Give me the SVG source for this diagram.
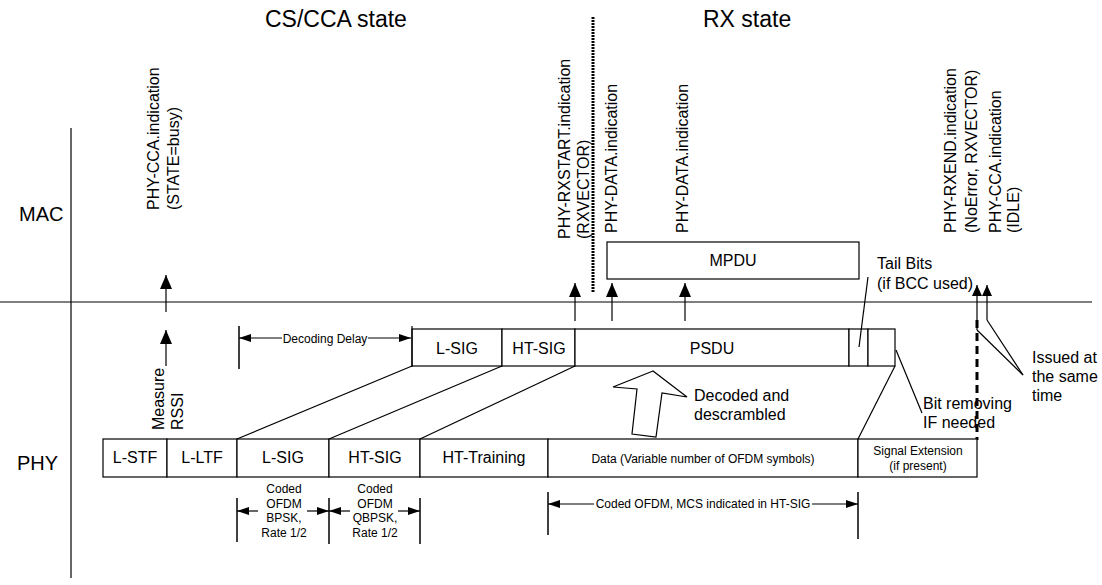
<svg xmlns="http://www.w3.org/2000/svg" width="1102" height="585" viewBox="0 0 1102 585">
<defs>
<marker id="ah" markerUnits="userSpaceOnUse" markerWidth="14" markerHeight="12" refX="14" refY="6" orient="auto"><path d="M0,0 L14,6 L0,12 Z" fill="#000"/></marker>
<marker id="ahs" markerUnits="userSpaceOnUse" markerWidth="12" markerHeight="8" refX="12" refY="4" orient="auto"><path d="M0,0 L12,4 L0,8 Z" fill="#000"/></marker>
<marker id="ahm" markerUnits="userSpaceOnUse" markerWidth="11" markerHeight="10" refX="11" refY="5" orient="auto"><path d="M0,0 L11,5 L0,10 Z" fill="#000"/></marker>
</defs>
<style>
text{font-family:"Liberation Sans",Arial,sans-serif;fill:#000}
.t16{font-size:16px}
.t12{font-size:12px}
.t20{font-size:20px}
.t23{font-size:23px}
.mid{text-anchor:middle}
.box{fill:#fff;stroke:#000;stroke-width:1.2}
.ln{stroke:#000;stroke-width:1.2;fill:none}
.tk{stroke:#000;stroke-width:1.5;fill:none}
</style>
<rect width="1102" height="585" fill="#fff"/>

<g id="labels">
<text class="t23" x="265" y="27">CS/CCA state</text>
<text class="t23" x="703" y="27">RX state</text>
<text class="t20" x="19" y="221">MAC</text>
<text class="t20" x="17" y="470">PHY</text>
</g>

<g id="axes">
<line class="ln" x1="0" y1="302" x2="1092" y2="302"/>
<line class="ln" x1="71" y1="128" x2="71" y2="578"/>
<line x1="593" y1="17" x2="593" y2="293" stroke="#000" stroke-width="3" stroke-dasharray="2,1"/>
<line x1="977" y1="320" x2="977" y2="440" stroke="#000" stroke-width="3" stroke-dasharray="8,5"/>
</g>

<g id="mac-labels">
<text class="t16" transform="translate(159,210) rotate(-90)">PHY-CCA.indication<tspan x="0" dy="20">(STATE=busy)</tspan></text>
<text class="t16" transform="translate(570,239) rotate(-90)">PHY-RXSTART.indication<tspan x="0" dy="19">(RXVECTOR)</tspan></text>
<text class="t16" transform="translate(617,233) rotate(-90)">PHY-DATA.indication</text>
<text class="t16" transform="translate(688,233) rotate(-90)">PHY-DATA.indication</text>
<text class="t16" transform="translate(956,233) rotate(-90)">PHY-RXEND.indication<tspan x="0" dy="21">(NoError, RXVECTOR)</tspan></text>
<text class="t16" transform="translate(1001,233) rotate(-90)">PHY-CCA.indication<tspan x="0" dy="18">(IDLE)</tspan></text>
<text class="t16" transform="translate(164,430) rotate(-90)">Measure<tspan x="0" dy="19">RSSI</tspan></text>
</g>

<g id="mpdu">
<rect class="box" x="607" y="242" width="252" height="37"/>
<text class="t16 mid" x="733" y="266">MPDU</text>
</g>

<g id="psdu-row">
<rect class="box" x="412" y="329" width="90" height="37"/>
<text class="t16 mid" x="457" y="354">L-SIG</text>
<rect class="box" x="502" y="329" width="73" height="37"/>
<text class="t16 mid" x="539" y="354">HT-SIG</text>
<rect class="box" x="575" y="329" width="274" height="37"/>
<text class="t16 mid" x="712" y="354">PSDU</text>
<rect class="box" x="849" y="329" width="19" height="37"/>
<rect class="box" x="868" y="329" width="27" height="37"/>
<line class="ln" x1="412" y1="326" x2="412" y2="367"/>
</g>

<g id="phy-row">
<rect class="box" x="103" y="439" width="64" height="38"/>
<text class="t16 mid" x="135" y="463">L-STF</text>
<rect class="box" x="167" y="439" width="70" height="38"/>
<text class="t16 mid" x="202" y="463">L-LTF</text>
<rect class="box" x="237" y="439" width="92" height="38"/>
<text class="t16 mid" x="283" y="463">L-SIG</text>
<rect class="box" x="329" y="439" width="91" height="38"/>
<text class="t16 mid" x="375" y="463">HT-SIG</text>
<rect class="box" x="420" y="439" width="128" height="38"/>
<text class="t16 mid" x="484" y="463">HT-Training</text>
<rect class="box" x="548" y="439" width="310" height="38"/>
<text class="t12 mid" x="703" y="463">Data (Variable number of OFDM symbols)</text>
<rect class="box" x="858" y="439" width="119" height="38"/>
<text class="t12 mid" x="918" y="455">Signal Extension</text>
<text class="t12 mid" x="918" y="470">(if present)</text>
</g>

<g id="annotations">
<text class="t12 mid" x="325" y="343">Decoding Delay</text>
<text class="t12 mid" x="284" y="493">Coded</text>
<text class="t12 mid" x="284" y="508">OFDM</text>
<text class="t12 mid" x="284" y="522">BPSK,</text>
<text class="t12 mid" x="284" y="537">Rate 1/2</text>
<text class="t12 mid" x="375" y="493">Coded</text>
<text class="t12 mid" x="375" y="508">OFDM</text>
<text class="t12 mid" x="375" y="522">QBPSK,</text>
<text class="t12 mid" x="375" y="537">Rate 1/2</text>
<text class="t12 mid" x="703" y="508">Coded OFDM, MCS indicated in HT-SIG</text>
<text class="t16" x="877" y="269">Tail Bits</text>
<text class="t16" x="877" y="289">(if BCC used)</text>
<text class="t16" x="694" y="401">Decoded and</text>
<text class="t16" x="694" y="420">descrambled</text>
<text class="t16" x="923" y="409">Bit removing</text>
<text class="t16" x="923" y="428">IF needed</text>
<text class="t16" x="1032" y="363">Issued at</text>
<text class="t16" x="1032" y="382">the same</text>
<text class="t16" x="1032" y="401">time</text>
</g>

<g id="connectors">
<line class="ln" x1="166" y1="312" x2="166" y2="275" marker-end="url(#ah)"/>
<line class="ln" x1="166" y1="366" x2="166" y2="330" marker-end="url(#ah)"/>
<line class="ln" x1="575" y1="321" x2="575" y2="283" marker-end="url(#ah)"/>
<line class="ln" x1="612" y1="321" x2="612" y2="283" marker-end="url(#ah)"/>
<line class="ln" x1="685" y1="321" x2="685" y2="283" marker-end="url(#ah)"/>
<line class="ln" x1="977" y1="330" x2="977" y2="285" marker-end="url(#ahm)"/>
<line class="ln" x1="987" y1="320" x2="987" y2="285" marker-end="url(#ahm)"/>
<line class="ln" x1="977" y1="330" x2="1023" y2="375"/>
<line class="ln" x1="987" y1="320" x2="1023" y2="375"/>
<line class="ln" x1="237" y1="439" x2="412" y2="366"/>
<line class="ln" x1="329" y1="439" x2="502" y2="366"/>
<line class="ln" x1="420" y1="439" x2="575" y2="366"/>
<line class="ln" x1="858" y1="439" x2="895" y2="366"/>
<line class="ln" x1="896" y1="350" x2="922" y2="413"/>
<line class="ln" x1="859" y1="347" x2="868" y2="277"/>
<polygon class="box" points="653,371 613,387 637,389 632,434 656,437 662,393 687,397"/>
<line class="tk" x1="239" y1="326" x2="239" y2="369"/>
<line class="ln" x1="282" y1="338" x2="239" y2="338" marker-end="url(#ahs)"/>
<line class="ln" x1="368" y1="338" x2="411" y2="338" marker-end="url(#ahs)"/>
<line class="tk" x1="237" y1="498" x2="237" y2="542"/>
<line class="tk" x1="329" y1="498" x2="329" y2="544"/>
<line class="tk" x1="420" y1="498" x2="420" y2="544"/>
<line class="ln" x1="258" y1="511" x2="237" y2="511" marker-end="url(#ahs)"/>
<line class="ln" x1="307" y1="511" x2="329" y2="511" marker-end="url(#ahs)"/>
<line class="ln" x1="350" y1="511" x2="329" y2="511" marker-end="url(#ahs)"/>
<line class="ln" x1="398" y1="511" x2="420" y2="511" marker-end="url(#ahs)"/>
<line class="tk" x1="548" y1="492" x2="548" y2="535"/>
<line class="tk" x1="858" y1="492" x2="858" y2="539"/>
<line class="ln" x1="594" y1="504" x2="548" y2="504" marker-end="url(#ahs)"/>
<line class="ln" x1="812" y1="504" x2="858" y2="504" marker-end="url(#ahs)"/>
</g>
</svg>
